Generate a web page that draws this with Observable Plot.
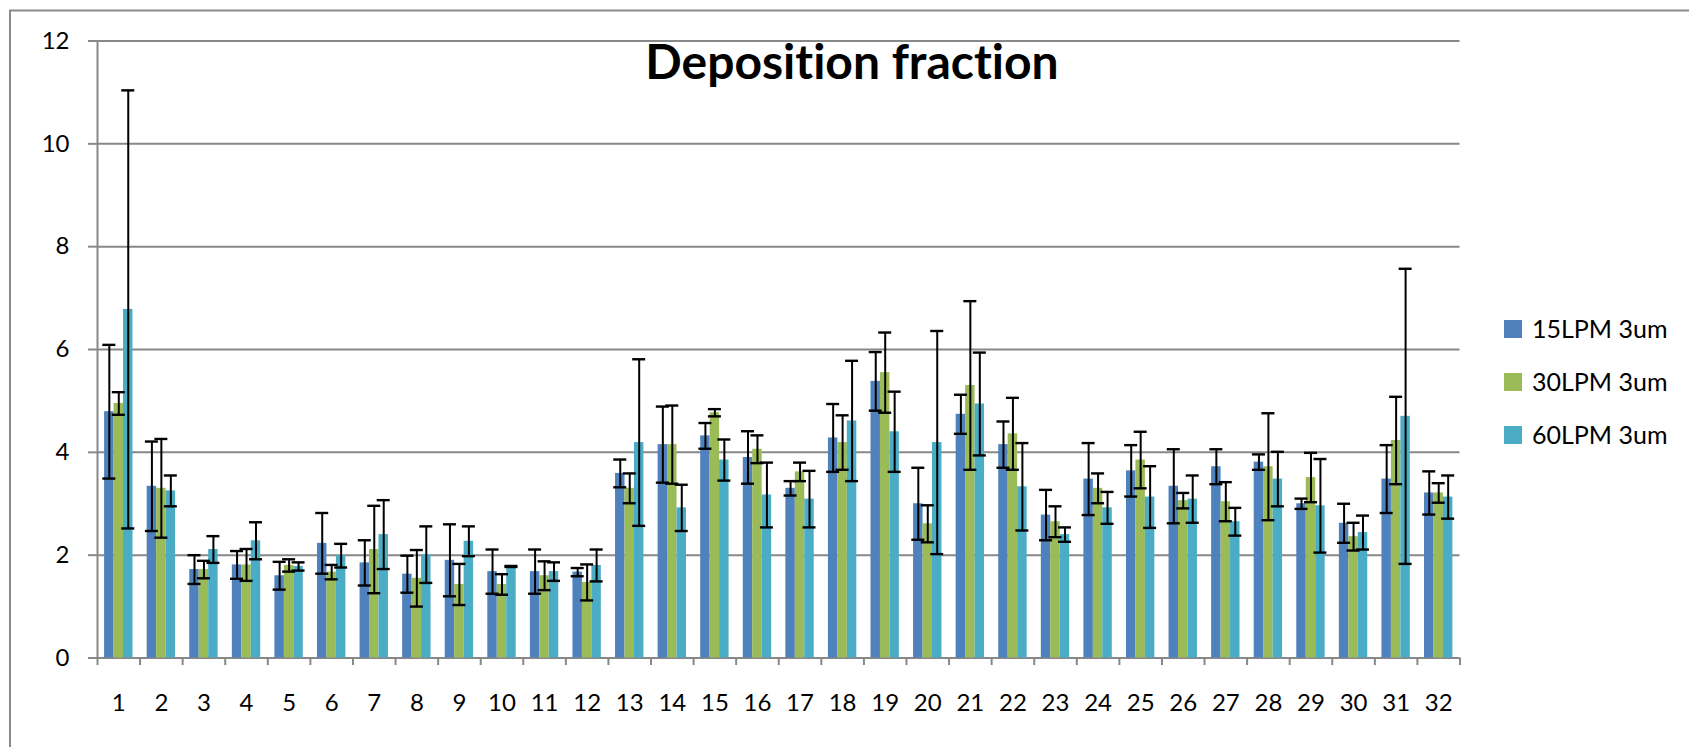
<!DOCTYPE html>
<html><head><meta charset="utf-8">
<script src="https://cdn.jsdelivr.net/npm/d3@7"></script>
<script src="https://cdn.jsdelivr.net/npm/@observablehq/plot@0.6"></script>
<style>
html,body{margin:0;padding:0;background:#fff;overflow:hidden;width:1689px;height:747px;}
svg text{font-variant-ligatures:none;}
</style></head><body>
<script>
const categories = ["1","2","3","4","5","6","7","8","9","10","11","12","13","14","15","16",
  "17","18","19","20","21","22","23","24","25","26","27","28","29","30","31","32"];
const seriesNames = ["15LPM 3um", "30LPM 3um", "60LPM 3um"];

const values15 = [4.79,3.34,1.72,1.81,1.60,2.23,1.85,1.63,1.90,1.68,1.68,1.67,3.59,4.15,4.32,3.90,
  3.30,4.28,5.38,3.00,4.74,4.15,2.78,3.48,3.64,3.34,3.72,3.81,3.00,2.62,3.48,3.21];
const errors15 = [1.30,0.87,0.28,0.27,0.27,0.59,0.44,0.36,0.70,0.43,0.43,0.08,0.27,0.74,0.25,0.51,
  0.14,0.66,0.57,0.70,0.38,0.45,0.49,0.70,0.50,0.72,0.34,0.15,0.10,0.38,0.66,0.42];

const values30 = [4.95,3.30,1.72,1.81,1.80,1.67,2.11,1.55,1.43,1.43,1.60,1.47,3.30,4.15,4.77,4.06,
  3.62,4.19,5.55,2.61,5.30,4.36,2.65,3.30,3.85,3.06,3.04,3.72,3.51,2.36,4.23,3.21];
const errors30 = [0.22,0.96,0.17,0.31,0.12,0.14,0.85,0.55,0.40,0.20,0.28,0.35,0.29,0.76,0.07,0.27,
  0.18,0.53,0.78,0.36,1.64,0.70,0.30,0.29,0.55,0.15,0.38,1.04,0.48,0.27,0.85,0.19];

const values60 = [6.78,3.25,2.11,2.28,1.78,1.99,2.40,2.01,2.27,1.78,1.68,1.80,4.19,2.92,3.85,3.17,
  3.09,4.61,4.40,4.19,4.94,3.33,2.40,2.92,3.13,3.09,2.65,3.48,2.96,2.44,4.70,3.13];
const errors60 = [4.26,0.30,0.26,0.36,0.08,0.23,0.67,0.55,0.29,0.01,0.18,0.31,1.62,0.45,0.40,0.63,
  0.55,1.17,0.78,2.17,1.00,0.85,0.14,0.31,0.60,0.46,0.27,0.53,0.91,0.33,2.87,0.42];

const yTicks = [0, 2, 4, 6, 8, 10, 12];
const chartTitle = "Deposition fraction";

const colors = ["#4F81BD", "#9BBB59", "#4BACC6"];
const gray = "#888888";

const W = 1689, H = 747, mL = 97, mR = 229.5, mT = 40.5, mB = 89.5;
const bw = (W - mL - mR) / categories.length;   // band step
const bar = bw / 4.5;                             // 150% gap width
const capHalf = 6.5;

const valueSets = [values15, values30, values60];
const errorSets = [errors15, errors30, errors60];
const rows = categories.flatMap((c, i) => seriesNames.map((s, k) => ({
  cat: c, series: s, k, value: valueSets[k][i], err: errorSets[k][i]
})));

const marks = [];
marks.push(Plot.ruleY(yTicks, {stroke: gray, strokeWidth: 2}));
seriesNames.forEach((s, k) => {
  const d = rows.filter(r => r.k === k);
  marks.push(Plot.barY(d, {x: "cat", y: "value", fill: colors[k],
    insetLeft: bar * (0.75 + k), insetRight: bar * (2.75 - k)}));
});
seriesNames.forEach((s, k) => {
  const d = rows.filter(r => r.k === k);
  const center = bar * (1.25 + k);
  marks.push(Plot.ruleX(d, {x: "cat", y1: r => r.value - r.err, y2: r => r.value + r.err,
    dx: center - bw / 2, stroke: "#000", strokeWidth: 2}));
  for (const sign of [1, -1]) {
    marks.push(Plot.tickY(d, {x: "cat", y: r => r.value + sign * r.err,
      insetLeft: center - capHalf, insetRight: bw - center - capHalf,
      stroke: "#000", strokeWidth: 2.4}));
  }
});
// axis line and boundary ticks
marks.push(Plot.ruleX([categories[0]], {x: d => d, dx: -bw / 2, y1: 0, y2: 12, stroke: gray, strokeWidth: 2}));
marks.push(Plot.ruleX(categories, {x: d => d, dx: -bw / 2, y1: 0, y2: 0, insetBottom: -7.5, stroke: gray, strokeWidth: 2}));
marks.push(Plot.ruleX([categories[categories.length - 1]], {x: d => d, dx: bw / 2, y1: 0, y2: 0, insetBottom: -7.5, stroke: gray, strokeWidth: 2}));
marks.push(Plot.axisY({ticks: yTicks, tickSize: 9, tickPadding: 19, fontSize: 24, stroke: gray, strokeWidth: 2, fill: "#000", label: null}));
marks.push(Plot.axisX({tickSize: 0, tickPadding: 35.5, fontSize: 24, fill: "#000", label: null}));

const plot = Plot.plot({
  width: W, height: H,
  marginLeft: mL, marginRight: mR, marginTop: mT, marginBottom: mB,
  style: {fontFamily: "Lato", background: "#fff", color: "#000", display: "block", maxWidth: "none"},
  x: {domain: categories, padding: 0, round: false},
  y: {domain: [0, 12]},
  marks
});

const svg = d3.select(plot);
// keep the empty area right of the plot clean
svg.append("rect").attr("x", 1475).attr("y", 13).attr("width", 214).attr("height", 290).attr("fill", "#fff");
// chart-area border (top and left edges visible)
svg.append("path")
  .attr("d", `M10,${H + 5}V10.5H${W + 5}`)
  .attr("fill", "none").attr("stroke", "#8a8a8a").attr("stroke-width", 2);

svg.append("text")
  .attr("x", 852).attr("y", 79).attr("text-anchor", "middle")
  .attr("font-family", "Lato").attr("font-weight", 700).attr("font-size", 48)
  .attr("fill", "#000").text(chartTitle);

const lg = svg.append("g").attr("font-family", "Lato").attr("font-size", 25)
  .attr("fill", "#000").attr("text-anchor", "start");
seriesNames.forEach((s, k) => {
  const cy = 329 + 53 * k;
  lg.append("rect").attr("x", 1504).attr("y", cy - 9).attr("width", 18).attr("height", 18).attr("fill", colors[k]);
  lg.append("text").attr("x", 1532).attr("y", cy).attr("dy", "0.36em").attr("text-anchor", "start").text(s);
});

document.body.appendChild(plot);
</script>
</body></html>
